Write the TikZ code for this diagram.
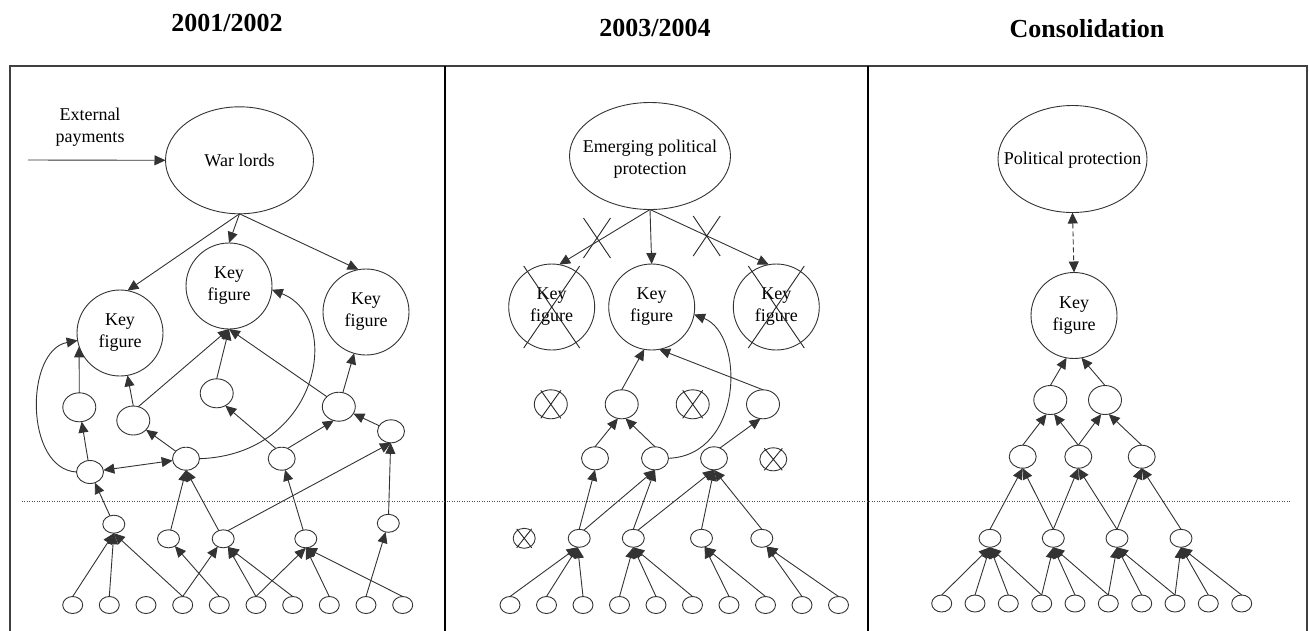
\documentclass[tikz,border=0pt]{standalone}
\usepackage{fontspec}
\setmainfont{Liberation Serif}
\usetikzlibrary{shapes.geometric,shapes.misc,arrows.meta}
\begin{document}
\begin{tikzpicture}[x=1pt,y=-1pt,
  every node/.style={inner sep=0pt,outer sep=0pt},
  ln/.style={line width=0.9pt,draw=black!80},
  arr/.style={ln,-{Triangle[length=11pt,width=10pt]}},
  darr/.style={ln,{Triangle[length=11pt,width=10pt]}-{Triangle[length=11pt,width=10pt]}},
  txt/.style={font=\fontsize{18}{22}\selectfont,align=center},
  ttl/.style={font=\fontsize{26}{30}\selectfont\bfseries,anchor=base},
  ov/.style 2 args={ellipse,draw=black!80,line width=0.9pt,minimum width=#1,minimum height=#2},
  kf/.style={ov={86pt}{86pt},txt},
  lvC/.style={ov={33pt}{29pt}},
  lvB/.style={ov={27pt}{23pt}},
  lvA/.style={ov={22pt}{18pt}},
  leaf/.style={ov={20pt}{17pt}},
  xo/.style 2 args={cross out,draw=black!85,line width=0.9pt,minimum width=#1,minimum height=#2}
]
\useasboundingbox (0,0) rectangle (1309,630);

% titles
\node[ttl] (T1) at (227,31.5) {2001/2002};
\node[ttl] (T2) at (655,36.5) {2003/2004};
\node[ttl] (T3) at (1087,37) {Consolidation};

% frame
\draw[line width=2pt,black!75] (9.5,632) -- (9.5,66) -- (1306.5,66) -- (1306.5,632);
\draw[line width=2.5pt] (445,66) -- (445,632);
\draw[line width=2.5pt] (868,66) -- (868,632);
\draw[line width=0.9pt,black!70,dash pattern=on 1pt off 1.5pt] (21.7,501) -- (1291.7,501);

% ================= panel 1 =================
\node[ov={148pt}{107pt},txt] (WL) at (239.5,160.3) {War lords};
\node[txt] (EPay) at (90,127) {External\\payments};
\coordinate (EPs) at (28,160);
\draw[arr] (EPs) -- (WL.west);

\node[kf] (K1) at (120,333) {Key\\figure};
\node[kf] (K2) at (229,286) {Key\\figure};
\node[kf] (K3) at (366,312) {Key\\figure};

\node[lvC] (C1) at (79.3,407.3) {};
\node[lvC] (C2) at (133.3,420.5) {};
\node[lvC] (C3) at (216.7,393.3) {};
\node[lvC] (C4) at (338.8,406.7) {};

\node[lvB] (B1) at (90,472) {};
\node[lvB] (B2) at (186,458.7) {};
\node[lvB] (B3) at (281.7,458.7) {};
\node[lvB] (B4) at (391,431.3) {};

\node[lvA] (A1) at (113.8,524.2) {};
\node[lvA] (A2) at (168.5,538.8) {};
\node[lvA] (A3) at (223.2,538.8) {};
\node[lvA] (A4) at (305.8,538.8) {};
\node[lvA] (A5) at (388.3,523.3) {};

\foreach \x [count=\i] in {72.7,109.3,146,182.7,219.3,256,292.7,329.3,366,402.7}
  \node[leaf] (La\i) at (\x,605) {};

\draw[arr] (WL.south) -- (K1.80);
\draw[arr] (WL.south) -- (K2.north);
\draw[arr] (WL.south) -- (K3.100);
\draw[arr] (B1.west) .. controls +(-52,-3) and +(-53,10) .. (K1.190);
\draw[arr] (C1.north) -- (K1.198);
\draw[arr] (B1) -- (C1);
\draw[arr] (A1) -- (B1);
\draw[darr] (B1) -- (B2);
\draw[arr] (B2) -- (C2);
\draw[arr] (C2.north) -- (K1.-80);
\draw[arr] (C2.70) -- (K2.south);
\draw[arr] (C3.north) -- (K2.south);
\draw[arr] (C4.140) -- (K2.south);
\draw[arr] (B2.east) .. controls +(120,-4) and +(72,28) .. (K2.-5);
\draw[arr] (B3.120) -- (C3.-55);
\draw[arr] (B3.60) -- (C4.-110);
\draw[arr] (C4) -- (K3);
\draw[arr] (B4) -- (C4);
\draw[arr] (A5) -- (B4);
\draw[arr] (A3.60) -- (B4.south);
\draw[arr] (A2) -- (B2.south);
\draw[arr] (A3) -- (B2.south);
\draw[arr] (A4) -- (B3);
\foreach \i in {1,2,4} \draw[arr] (La\i.north) -- (A1.south);
\draw[arr] (La4.north) -- (A3);
\draw[arr] (La5.north) -- (A2);
\foreach \i in {6,7} \draw[arr] (La\i.north) -- (A3.-60);
\foreach \i in {6,8,10} \draw[arr] (La\i.north) -- (A4.south);
\draw[arr] (La9.north) -- (A5);

% ================= panel 2 =================
\node[ov={161pt}{107pt}] (EP) at (650,156) {};
\node[txt] (EPt) at (650,159) {Emerging political\\protection};
\node[kf] (Kl) at (551.7,307) {Key\\figure};
\node[kf] (Km) at (651.7,307) {Key\\figure};
\node[kf] (Kr) at (776.3,307) {Key\\figure};
\node[xo={56pt}{82pt}] (Klx) at (Kl) {};
\node[xo={56pt}{82pt}] (Krx) at (Kr) {};

\draw[arr] (EP.south) -- (Kl.80);
\draw[arr] (EP.south) -- (Km.north);
\draw[arr] (EP.south) -- (Kr.100);
\node[xo={27pt}{40pt}] (X1) at (597,238) {};
\node[xo={27pt}{40pt}] (X2) at (706.7,236) {};

\node[lvC] (Xc1) at (550.8,404.3) {};
\node[xo={20pt}{28pt}] (Xc1x) at (Xc1) {};
\node[lvC] (C2b) at (621.7,404.3) {};
\node[lvC] (Xc3) at (692.7,404.3) {};
\node[xo={20pt}{28pt}] (Xc3x) at (Xc3) {};
\node[lvC] (C4b) at (763,404.3) {};

\node[lvB] (B1b) at (595,458.3) {};
\node[lvB] (B2b) at (655,458.3) {};
\node[lvB] (B3b) at (714,458.3) {};
\node[lvB] (Xb4) at (773.3,459.3) {};
\node[xo={18pt}{22pt}] (Xb4x) at (Xb4) {};

\node[ov={22pt}{20pt}] (Xa) at (524.2,538.3) {};
\node[xo={15pt}{19pt}] (Xax) at (Xa) {};
\node[lvA] (A1b) at (579.2,538.3) {};
\node[lvA] (A2b) at (633.3,538.3) {};
\node[lvA] (A3b) at (701.5,538.3) {};
\node[lvA] (A4b) at (761.8,538.3) {};

\foreach \x [count=\i] in {510,546.5,583,619.5,656,692.5,729,765.5,802,838.5}
  \node[leaf] (Lb\i) at (\x,605) {};

\foreach \i in {1,2,3} \draw[arr] (Lb\i.north) -- (A1b.-100);
\foreach \i in {4,5,6} \draw[arr] (Lb\i.north) -- (A2b.south);
\foreach \i in {7,8} \draw[arr] (Lb\i.north) -- (A3b.-70);
\foreach \i in {9,10} \draw[arr] (Lb\i.north) -- (A4b.-60);
\draw[arr] (A1b.north) -- (B1b.south);
\draw[arr] (A1b.60) -- (B2b.south);
\draw[arr] (A2b.north) -- (B2b.south);
\draw[arr] (A2b.60) -- (B3b.south);
\draw[arr] (A3b.north) -- (B3b.south);
\draw[arr] (A4b.north) -- (B3b.south);
\draw[arr] (B1b.north) -- (C2b.-105);
\draw[arr] (B2b.north) -- (C2b.-75);
\draw[arr] (B3b.60) -- (C4b.-100);
\draw[arr] (C2b.north) -- (Km.-100);
\draw[arr] (C4b.north) -- (Km.-80);
\draw[arr] (B2b.east) .. controls +(75,-3) and +(51,20) .. (Km.-10);

% ================= panel 3 =================
\node[ov={149pt}{107pt}] (PP) at (1072.5,159) {};
\node[txt] (PPt) at (1072.5,160) {Political protection};
\node[kf] (Kc) at (1074,315.5) {Key\\figure};
\draw[darr,dash pattern=on 5pt off 3pt] (PP.south) -- (Kc.north);

\node[lvC] (D1) at (1050.3,400) {};
\node[lvC] (D2) at (1105,400) {};
\node[lvB] (E1) at (1022.7,456.7) {};
\node[lvB] (E2) at (1078.3,456.7) {};
\node[lvB] (E3) at (1141.7,456.7) {};
\node[lvA] (F1) at (990,538.3) {};
\node[lvA] (F2) at (1053.3,538.3) {};
\node[lvA] (F3) at (1117,538.3) {};
\node[lvA] (F4) at (1181,538.3) {};

\foreach \x [count=\i] in {941.7,975,1008.3,1041.7,1075,1108.3,1141.7,1175,1208.3,1241.7}
  \node[leaf] (Lc\i) at (\x,603.5) {};

\foreach \i in {1,2,3,4} \draw[arr] (Lc\i.north) -- (F1.south);
\foreach \i in {4,5,6} \draw[arr] (Lc\i.north) -- (F2.south);
\foreach \i in {6,7,8} \draw[arr] (Lc\i.north) -- (F3.south);
\foreach \i in {8,9,10} \draw[arr] (Lc\i.north) -- (F4.south);
\draw[arr] (F1.north) -- (E1.south);
\draw[arr] (F2.north) -- (E1.south);
\draw[arr] (F2.north) -- (E2.south);
\draw[arr] (F3.north) -- (E2.south);
\draw[arr] (F3.north) -- (E3.south);
\draw[arr] (F4.north) -- (E3.south);
\draw[arr] (E1.north) -- (D1.-105);
\draw[arr] (E2.north) -- (D1.-75);
\draw[arr] (E2.north) -- (D2.-105);
\draw[arr] (E3.north) -- (D2.-75);
\draw[arr] (D1.north) -- (Kc.-100);
\draw[arr] (D2.north) -- (Kc.-80);
\end{tikzpicture}
\end{document}
